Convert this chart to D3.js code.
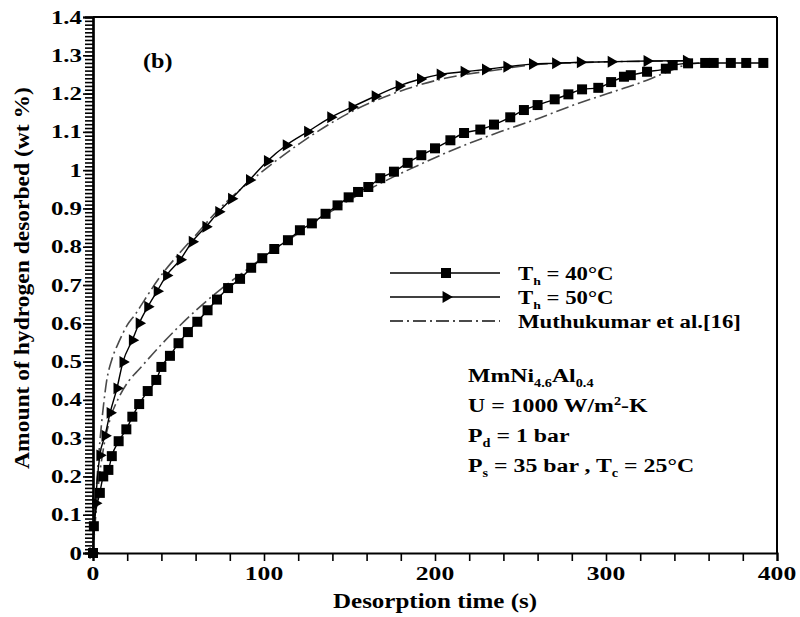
<!DOCTYPE html>
<html>
<head>
<meta charset="utf-8">
<script src="https://cdn.jsdelivr.net/npm/d3@7"></script>
<style>
  html, body { margin: 0; padding: 0; background: #fff; }
  svg { display: block; }
</style>
</head>
<body>
<svg id="chart" width="800" height="617"></svg>
<script>
// Desorption time (s) and amount desorbed (wt %) for each run
const t40 = [0, 0.5, 4, 6, 9, 11, 15, 19.5, 23, 27, 32, 37, 40, 45, 50, 55.5, 61, 67, 72.5, 79,
  86, 92.5, 99, 106, 114, 121, 128, 136, 143, 149.5, 155, 161, 168, 176, 184, 192, 200, 209, 217, 226.5,
  234.5, 244, 252, 260, 270, 278, 286, 295.5, 303, 310.5, 314.5, 324, 335, 339, 348, 358, 363, 373, 382, 392];
const v40 = [0, 0.07, 0.157, 0.2, 0.217, 0.253, 0.292, 0.323, 0.356, 0.389, 0.423, 0.452, 0.486, 0.515, 0.548, 0.577, 0.604, 0.634, 0.662, 0.692,
  0.716, 0.745, 0.77, 0.794, 0.817, 0.843, 0.861, 0.886, 0.908, 0.929, 0.943, 0.956, 0.979, 0.996, 1.019, 1.039, 1.057, 1.078, 1.097, 1.106,
  1.119, 1.138, 1.157, 1.17, 1.185, 1.198, 1.211, 1.215, 1.23, 1.244, 1.248, 1.257, 1.265, 1.274, 1.279, 1.28, 1.28, 1.28, 1.28, 1.28];

const t50 = [0, 1.5, 4, 7, 10, 14, 17.5, 23, 27, 32, 37.5, 43, 51, 58, 66, 73.5, 81, 91.5, 102, 113,
  125.5, 139, 151.5, 165, 179, 191.5, 203, 217, 229.5, 242, 257, 270.5, 285, 303, 324, 347];
const v50 = [0, 0.13, 0.255, 0.306, 0.366, 0.43, 0.499, 0.556, 0.6, 0.643, 0.684, 0.725, 0.766, 0.813, 0.852, 0.891, 0.925, 0.974, 1.024, 1.065,
  1.1, 1.138, 1.165, 1.193, 1.22, 1.238, 1.25, 1.257, 1.263, 1.27, 1.277, 1.279, 1.282, 1.283, 1.285, 1.286];

// Muthukumar et al. [16], the 50 °C and 40 °C cases
const tMuA = [0, 2, 4, 6, 8, 11, 15, 20, 25, 30, 39, 50, 60, 73, 85, 100, 121, 150, 180, 203, 238, 257, 280, 300, 350];
const vMuA = [0, 0.17, 0.29, 0.38, 0.45, 0.505, 0.55, 0.595, 0.625, 0.66, 0.72, 0.78, 0.83, 0.895, 0.945, 1.0, 1.07, 1.15, 1.207, 1.237, 1.263, 1.275, 1.28, 1.283, 1.285];
const tMuB = [0, 3, 6, 10, 15, 21, 27, 39, 51, 63, 75, 90, 105, 120, 135, 150, 171, 186, 209, 238, 258, 281, 301, 324, 336, 346, 355];
const vMuB = [0, 0.17, 0.27, 0.35, 0.405, 0.45, 0.48, 0.54, 0.595, 0.645, 0.69, 0.74, 0.79, 0.835, 0.88, 0.922, 0.972, 1.004, 1.05, 1.1, 1.131, 1.17, 1.2, 1.235, 1.257, 1.274, 1.28];

// Axis ticks
const xTickValues = [0, 100, 200, 300, 400];
const xTickLabels = ["0", "100", "200", "300", "400"];
const yTickValues = [0, 0.1, 0.2, 0.3, 0.4, 0.5, 0.6, 0.7, 0.8, 0.9, 1, 1.1, 1.2, 1.3, 1.4];
const yTickLabels = ["0", "0.1", "0.2", "0.3", "0.4", "0.5", "0.6", "0.7", "0.8", "0.9", "1", "1.1", "1.2", "1.3", "1.4"];

// Legend and annotation text
const legendLabels = [["T", "h", " = 40°C"], ["T", "h", " = 50°C"], ["Muthukumar et al.[16]"]];

const FONT = "'Liberation Serif', 'Times New Roman', Times, 'DejaVu Serif', serif";

const svg = d3.select("#chart");
const x = d3.scaleLinear().domain([0, 400]).range([93, 777]);
const y = d3.scaleLinear().domain([0, 1.4]).range([553, 17]);

// text with tspans: parts = [[str, kind]], kind: "n" | "sub" | "sup"
function richText(g, px, py, parts, size, anchor, sx) {
  const t = g.append("text")
    .attr("transform", `translate(${px},${py}) scale(${sx},1)`)
    .attr("font-family", FONT).attr("font-weight", "bold")
    .attr("font-size", size)
    .attr("text-anchor", anchor || "start");
  let shift = 0;
  parts.forEach(([s, kind]) => {
    const target = kind === "sub" ? 0.25 * size : kind === "sup" ? -0.38 * size : 0;
    const sp = t.append("tspan").text(s).attr("dy", target - shift);
    if (kind !== "n") sp.attr("font-size", size * 0.6);
    shift = target;
  });
  return t;
}

// Frame: top and right borders
svg.append("line").attr("x1", x(0)).attr("x2", x(400)).attr("y1", y(1.4)).attr("y2", y(1.4))
  .attr("stroke", "#000").attr("stroke-width", 2);
svg.append("line").attr("x1", x(400)).attr("x2", x(400)).attr("y1", y(1.4)).attr("y2", y(0))
  .attr("stroke", "#000").attr("stroke-width", 2);

// Y axis: minor ticks every 0.01, major every 0.1
const yMinor = svg.append("g").attr("transform", `translate(${x(0)},0)`)
  .call(d3.axisLeft(y).tickValues(d3.range(0, 141).map(i => i / 100)).tickSize(8).tickFormat(""));
const yMajor = svg.append("g").attr("transform", `translate(${x(0)},0)`)
  .call(d3.axisLeft(y).tickValues(yTickValues).tickSize(10).tickFormat(""));
// X axis: ticks every 20 s
const xAxis = svg.append("g").attr("transform", `translate(0,${y(0)})`)
  .call(d3.axisBottom(x).tickValues(d3.range(0, 401, 20)).tickSize(8).tickFormat(""));
[yMinor, yMajor, xAxis].forEach(g => {
  g.selectAll("path.domain").attr("stroke", "#000").attr("stroke-width", 2.2);
  g.selectAll(".tick line").attr("stroke", "#000").attr("stroke-width", 1.6);
});

// Tick labels
yTickValues.forEach((v, i) => {
  richText(svg, 82, y(v) + 6.5, [[yTickLabels[i], "n"]], 18, "end", 1.38);
});
xTickValues.forEach((v, i) => {
  richText(svg, x(v), 580, [[xTickLabels[i], "n"]], 19, "middle", 1.35);
});

// Axis titles
richText(svg, x(200), 608, [["Desorption time (s)", "n"]], 20, "middle", 1.25);
svg.append("text")
  .attr("transform", `translate(28.5,278) rotate(-90) scale(1.07,1)`)
  .attr("font-family", FONT).attr("font-weight", "bold")
  .attr("font-size", 22).attr("text-anchor", "middle")
  .text("Amount of hydrogen desorbed (wt %)");

// Panel tag
richText(svg, 143, 68, [["(b)", "n"]], 21, "start", 1.15);

// Curves
const line = d3.line().x(d => x(d[0])).y(d => y(d[1])).curve(d3.curveMonotoneX);
const zip = (a, b) => a.map((t, i) => [t, b[i]]);
const d40 = zip(t40, v40), d50 = zip(t50, v50);
const dMuA = zip(tMuA, vMuA), dMuB = zip(tMuB, vMuB);

const dashStyle = "13,4,2,4";
[dMuA, dMuB].forEach(d => {
  svg.append("path").datum(d).attr("d", line)
    .attr("fill", "none").attr("stroke", "#4a4a4a").attr("stroke-width", 1.6)
    .attr("stroke-dasharray", dashStyle);
});
[d40, d50].forEach(d => {
  svg.append("path").datum(d).attr("d", line)
    .attr("fill", "none").attr("stroke", "#000").attr("stroke-width", 1.4);
});

const sq = d3.symbol().type(d3.symbolSquare).size(100);
const tri = d3.symbol().type(d3.symbolTriangle).size(62);
svg.append("g").selectAll("path").data(d40).join("path")
  .attr("d", sq).attr("transform", d => `translate(${x(d[0])},${y(d[1])})`).attr("fill", "#000");
svg.append("g").selectAll("path").data(d50).join("path")
  .attr("d", tri).attr("transform", d => `translate(${x(d[0])},${y(d[1])}) rotate(90)`).attr("fill", "#000");

// Legend
const legendRows = [273, 297, 321];
const legend = svg.append("g");
legendRows.forEach((ly, i) => {
  const ln = legend.append("line").attr("x1", 390).attr("x2", 500).attr("y1", ly).attr("y2", ly)
    .attr("stroke", i === 2 ? "#4a4a4a" : "#000").attr("stroke-width", i === 2 ? 1.8 : 1.4);
  if (i === 2) ln.attr("stroke-dasharray", dashStyle);
  if (i === 0) legend.append("path").attr("d", sq).attr("transform", `translate(446,${ly})`);
  if (i === 1) legend.append("path").attr("d", tri).attr("transform", `translate(446,${ly}) rotate(90)`);
  const lab = legendLabels[i];
  const parts = lab.length === 3 ? [[lab[0], "n"], [lab[1], "sub"], [lab[2], "n"]] : [[lab[0], "n"]];
  richText(legend, 518, ly + 7, parts, 19, "start", 1.2);
});

// Operating conditions
const notes = [
  [["MmNi", "n"], ["4.6", "sub"], ["Al", "n"], ["0.4", "sub"]],
  [["U = 1000  W/m", "n"], ["2", "sup"], ["-K", "n"]],
  [["P", "n"], ["d", "sub"], [" = 1 bar", "n"]],
  [["P", "n"], ["s", "sub"], [" = 35 bar , T", "n"], ["c", "sub"], [" = 25°C", "n"]]
];
const noteY = [382, 412, 442, 472];
notes.forEach((p, i) => richText(svg, 468, noteY[i], p, 19.5, "start", 1.22));
</script>
</body>
</html>
